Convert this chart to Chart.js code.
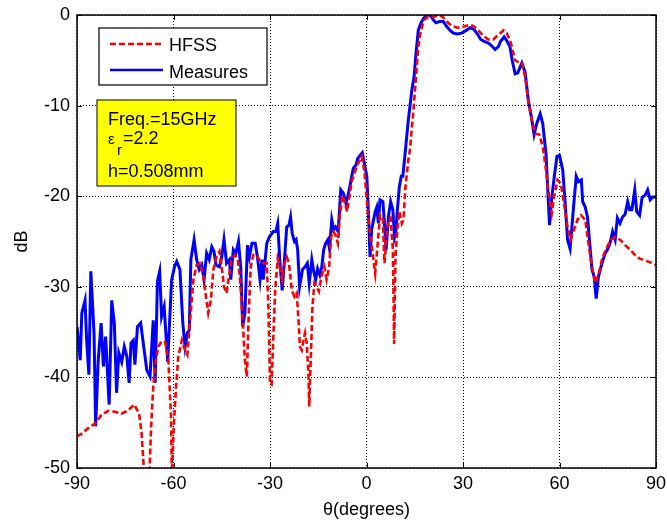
<!DOCTYPE html>
<html lang="en">
<head>
  <meta charset="UTF-8" />
  <title>HFSS vs Measures</title>
  <script src="https://cdn.jsdelivr.net/npm/chart.js"></script>
  <style>
    body {
      margin: 0;
      background-color: #ffffff;
    }
    #wrap {
      width: 667px;
      height: 524px;
    }
  </style>
</head>
<body>
  <div id="wrap"><canvas id="grafico" width="667" height="524"></canvas></div>

  <script>
    // angle ticks and dB ticks
    const angleTicks = [-90, -60, -30, 0, 30, 60, 90];
    const dbTicks = [0, -10, -20, -30, -40, -50];

    // HFSS simulation (dashed red)
    const hfssAngle = [-90, -88.5, -86.5, -84.4, -82.3, -80.3, -78.2, -76.1, -74.0, -72.2, -70.7, -69.9, -69.4, -68.9, -67.6, -67.0, -66.3, -65.5, -64.7, -63.7, -62.6, -61.6, -60.8, -60.5, -60.0, -59.2, -58.5, -57.4, -56.4, -55.7, -54.9, -53.8, -52.8, -51.8, -50.7, -49.9, -49.2, -48.4, -47.6, -46.6, -45.7, -45.0, -44.3, -43.5, -42.6, -41.9, -40.9, -40.0, -39.3, -38.5, -37.8, -37.2, -36.6, -36.0, -35.2, -34.1, -33.1, -32.1, -31.0, -30.5, -30.0, -29.5, -29.0, -28.4, -27.6, -26.9, -26.2, -25.5, -24.8, -24.1, -23.2, -22.4, -21.7, -21.2, -20.7, -20.1, -19.6, -19.1, -18.6, -18.1, -17.8, -17.3, -16.8, -16.2, -15.5, -14.8, -13.9, -13.1, -12.4, -11.6, -11.0, -10.3, -9.6, -8.9, -8.2, -7.5, -6.7, -6.0, -5.4, -4.6, -3.8, -3.0, -2.3, -1.5, -0.7, 0.3, 1.1, 1.9, 2.7, 3.4, 4.2, 5.1, 5.6, 6.1, 6.8, 7.5, 8.2, 8.6, 9.0, 9.6, 10.2, 11.0, 11.5, 12.1, 13.0, 13.5, 14.6, 15.4, 16.1, 16.9, 17.9, 19.2, 20.6, 22.3, 23.7, 24.9, 26.5, 28.2, 30.1, 32.0, 33.2, 34.8, 36.3, 37.9, 39.4, 41.0, 42.6, 43.6, 44.9, 46.2, 47.5, 48.3, 49.3, 50.3, 51.4, 52.4, 53.7, 54.8, 55.8, 56.9, 57.6, 58.3, 59.4, 60.4, 61.4, 62.5, 63.5, 64.5, 65.6, 66.7, 68.0, 69.0, 70.1, 71.1, 72.1, 73.2, 74.5, 76.0, 77.3, 78.8, 80.4, 81.9, 83.5, 85.0, 86.6, 88.2, 90.0];
    const hfssDb = [-46.5, -46.2, -45.6, -45.1, -44.1, -43.7, -43.8, -44.0, -43.6, -43.0, -44.0, -46.2, -49.1, -52, -52, -45.8, -41.0, -38.1, -36.6, -36.0, -36.1, -38.1, -44.0, -51, -46, -41.0, -37.7, -35.9, -37.0, -37.5, -34.0, -29.2, -27.6, -27.4, -28.9, -31.1, -32.9, -31.5, -28.1, -26.7, -26.1, -27.8, -30.0, -30.7, -28.5, -26.9, -26.5, -27.0, -29.2, -33.7, -38.1, -39.9, -32.9, -27.8, -26.5, -26.5, -27.2, -27.4, -27.4, -32.2, -40.7, -40.8, -35.9, -30.4, -26.9, -27.8, -29.2, -27.4, -26.7, -27.4, -30.4, -31.1, -30.7, -33.3, -36.6, -37.0, -35.9, -35.1, -36.2, -39.2, -43.2, -37.7, -32.2, -29.6, -30.0, -30.5, -28.7, -27.8, -29.2, -27.8, -24.5, -23.9, -24.3, -25.2, -21.9, -19.9, -20.8, -21.7, -20.2, -18.4, -17.5, -16.7, -16.2, -15.6, -17.1, -21.2, -24.1, -26.3, -28.5, -25.6, -22.1, -22.6, -27.4, -25.2, -22.6, -22.4, -25.9, -36.3, -26.7, -23.7, -21.7, -23.0, -22.6, -19.0, -16.0, -14.9, -10.5, -6.8, -3.5, -1.7, -0.55, -0.2, -0.25, 0, -0.2, -0.7, -1.2, -1.4, -1.3, -1.1, -1.2, -1.7, -2.3, -2.7, -2.7, -2.2, -1.7, -2.0, -3.1, -5.0, -5.3, -5.3, -6.8, -9.4, -11.6, -13.1, -13.2, -14.5, -17.1, -20.4, -21.9, -20.1, -18.2, -18.6, -20.8, -23.4, -24.8, -23.7, -22.6, -22.1, -22.6, -25.2, -27.8, -29.6, -28.7, -27.0, -25.8, -24.8, -24.5, -24.8, -25.4, -25.9, -26.5, -26.9, -27.1, -27.3, -27.6];

    // measured pattern (solid blue)
    const measAngle = [-90, -89, -88.5, -87.5, -87, -86.3, -85.7, -84.7, -84.2, -83.4, -82.5, -81.8, -81.1, -80, -79.2, -78.4, -77.7, -77, -76.1, -75.3, -74.5, -73.8, -73.2, -72.5, -72, -71.2, -70.2, -69.4, -68.3, -67.3, -66.3, -65.7, -65, -64.3, -63.7, -62.9, -61.8, -60.6, -59.7, -59, -58, -57.1, -56.4, -55.7, -55.1, -54.6, -53.6, -52.8, -52.0, -51.2, -50.5, -49.7, -48.9, -48.1, -47.4, -46.8, -45.7, -45.0, -44.3, -43.5, -42.6, -42.2, -41.4, -40.6, -39.8, -39.1, -38.5, -37.8, -37.0, -36.4, -35.6, -34.6, -33.9, -33.1, -32.5, -32.1, -31.0, -30.2, -29.0, -28.2, -27.6, -26.9, -26.2, -25.5, -24.8, -24.1, -23.6, -23.1, -22.4, -21.9, -21.4, -20.8, -19.9, -19.1, -18.4, -17.8, -17.0, -16.4, -15.8, -15.2, -14.5, -13.9, -13.3, -12.7, -12.0, -11.5, -10.8, -10.2, -9.6, -8.8, -8.0, -7.2, -6.4, -5.6, -4.8, -4.1, -3.3, -2.7, -2.0, -1.3, -0.6, 0.1, 0.6, 1.1, 1.6, 2.7, 3.2, 3.7, 4.2, 5.1, 5.5, 6.1, 6.8, 7.5, 8.2, 8.7, 9.2, 9.6, 10.2, 10.8, 11.3, 12.0, 13.0, 14.1, 14.8, 15.4, 16.1, 16.9, 17.7, 18.7, 19.8, 20.8, 21.6, 22.7, 23.9, 25.0, 26.0, 27.0, 28.2, 29.6, 31.0, 32.2, 33.4, 34.5, 35.5, 36.6, 37.9, 38.9, 40.0, 41.0, 41.7, 42.8, 43.7, 44.6, 45.3, 46.2, 47.0, 48.3, 49.3, 50.3, 51.4, 52.1, 52.9, 54.0, 54.8, 55.8, 56.9, 57.6, 58.4, 59.2, 60.0, 61.0, 61.7, 62.5, 63.3, 64.1, 65.2, 65.9, 66.8, 67.2, 68.0, 68.7, 69.4, 70.1, 70.8, 71.4, 72.1, 73.2, 74.2, 74.9, 75.7, 76.5, 77.3, 78.0, 78.8, 79.6, 80.4, 81.2, 81.8, 82.5, 83.4, 84.0, 84.9, 85.7, 86.6, 87.4, 88.2, 89.0, 90.0];
    const measDb = [-34.4, -38.1, -32.9, -31.5, -35.9, -39.7, -28.3, -35.1, -45.4, -38.1, -34.0, -38.8, -35.5, -43.0, -31.5, -34.0, -41.7, -37.3, -38.3, -36.6, -37.7, -40.6, -36.2, -35.9, -38.6, -34.4, -34.0, -36.2, -39.2, -39.9, -33.7, -40.6, -29.4, -28.3, -33.3, -32.2, -38.3, -29.3, -27.8, -27.2, -28.1, -34.0, -36.6, -35.1, -34.8, -27.0, -24.8, -27.0, -28.1, -27.6, -29.2, -26.3, -27.0, -25.6, -26.1, -27.6, -27.8, -26.7, -24.8, -27.4, -27.0, -29.2, -25.9, -26.3, -25.0, -27.8, -34.4, -32.9, -25.4, -26.7, -25.2, -25.2, -26.7, -29.2, -27.0, -29.2, -25.2, -24.5, -23.9, -23.9, -23.0, -27.4, -30.4, -27.0, -23.4, -23.2, -22.3, -24.1, -25.0, -24.8, -25.9, -30.0, -28.1, -27.8, -27.4, -29.6, -27.0, -28.3, -29.2, -28.0, -28.7, -27.8, -25.9, -25.2, -24.8, -25.8, -22.6, -23.7, -23.4, -23.9, -19.3, -19.7, -20.8, -19.7, -18.2, -16.9, -16.6, -15.8, -15.5, -15.2, -16.5, -17.8, -21.9, -26.7, -23.7, -21.7, -21.2, -23.0, -20.4, -20.6, -22.6, -25.9, -22.3, -20.6, -21.5, -24.5, -23.7, -21.5, -19.0, -17.8, -17.8, -15.3, -11.6, -8.3, -6.8, -4.2, -1.7, -0.9, -0.4, 0, 0, -0.55, -0.85, -0.73, -0.73, -1.3, -1.7, -2.0, -2.1, -2.0, -1.7, -1.4, -1.6, -2.1, -2.7, -2.9, -3.1, -3.4, -3.8, -3.5, -2.9, -2.4, -2.9, -3.5, -5.0, -6.5, -6.4, -5.3, -6.3, -9.4, -11.6, -13.2, -12.0, -10.9, -12.0, -15.3, -23.2, -20.1, -17.8, -15.6, -15.5, -17.1, -20.4, -24.8, -25.8, -22.3, -17.8, -18.4, -18.2, -20.6, -21.2, -22.3, -25.2, -28.1, -28.9, -31.3, -28.9, -27.4, -26.3, -25.9, -25.2, -23.9, -24.8, -22.4, -23.0, -22.3, -22.0, -20.6, -21.5, -21.5, -19.3, -21.7, -22.1, -20.1, -19.9, -19.3, -20.4, -20.1, -20.1];

    const fonte = "'Liberation Sans', Arial, sans-serif";

    // caixa do eixo, ticks internos, legenda e caixa amarela
    const extras = {
      id: 'extras',
      afterDatasetsDraw(chart) {
        const ctx = chart.ctx;
        const a = chart.chartArea;
        const xs = chart.scales.x, ys = chart.scales.y;
        ctx.save();
        ctx.strokeStyle = '#000';
        ctx.lineWidth = 1;
        ctx.setLineDash([]);
        ctx.beginPath();
        angleTicks.forEach(v => {
          const px = Math.round(xs.getPixelForValue(v)) + 0.5;
          ctx.moveTo(px, a.bottom); ctx.lineTo(px, a.bottom - 5);
          ctx.moveTo(px, a.top); ctx.lineTo(px, a.top + 5);
        });
        dbTicks.forEach(v => {
          const py = Math.round(ys.getPixelForValue(v)) + 0.5;
          ctx.moveTo(a.left, py); ctx.lineTo(a.left + 5, py);
          ctx.moveTo(a.right, py); ctx.lineTo(a.right - 5, py);
        });
        ctx.stroke();
        ctx.lineWidth = 1.5;
        ctx.strokeRect(a.left, a.top, a.right - a.left, a.bottom - a.top);

        // legenda
        ctx.fillStyle = '#fff';
        ctx.fillRect(99, 28, 168, 57);
        ctx.lineWidth = 1.2;
        ctx.strokeRect(99, 28, 168, 57);
        ctx.lineWidth = 2.5;
        ctx.strokeStyle = '#ff0000';
        ctx.setLineDash([6, 3]);
        ctx.beginPath(); ctx.moveTo(110, 44); ctx.lineTo(163, 44); ctx.stroke();
        ctx.setLineDash([]);
        ctx.strokeStyle = '#0000ff';
        ctx.beginPath(); ctx.moveTo(110, 70); ctx.lineTo(163, 70); ctx.stroke();
        ctx.fillStyle = '#000';
        ctx.font = '18px ' + fonte;
        ctx.textBaseline = 'middle';
        ctx.fillText('HFSS', 169, 46);
        ctx.fillText('Measures', 169, 73);

        // caixa amarela
        ctx.fillStyle = '#ffff00';
        ctx.fillRect(97, 100, 139, 86);
        ctx.strokeStyle = '#000';
        ctx.lineWidth = 1;
        ctx.strokeRect(97, 100, 139, 86);
        ctx.fillStyle = '#000';
        ctx.font = '18px ' + fonte;
        ctx.fillText('Freq.=15GHz', 108, 120);
        ctx.font = '15px ' + fonte;
        ctx.fillText('\u03b5', 108, 140);
        ctx.fillText('r', 117, 151);
        ctx.font = '18px ' + fonte;
        ctx.fillText('=2.2', 123, 139);
        ctx.fillText('h=0.508mm', 108, 172);
        ctx.restore();
      }
    };

    const ctx = document.getElementById('grafico').getContext('2d');
    new Chart(ctx, {
      type: 'line',
      data: {
        datasets: [
          {
            label: 'HFSS',
            data: hfssAngle.map((a, i) => ({ x: a, y: hfssDb[i] })),
            borderColor: '#ff0000',
            borderWidth: 2.6,
            borderDash: [6, 3],
            pointRadius: 0,
            tension: 0,
            clip: 0
          },
          {
            label: 'Measures',
            data: measAngle.map((a, i) => ({ x: a, y: measDb[i] })),
            borderColor: '#0000ff',
            borderWidth: 3,
            pointRadius: 0,
            tension: 0,
            clip: 0
          }
        ]
      },
      options: {
        responsive: false,
        animation: false,
        devicePixelRatio: 1,
        layout: { padding: { left: 0, right: 11, top: 15, bottom: 0 } },
        plugins: {
          legend: { display: false },
          tooltip: { enabled: false }
        },
        scales: {
          x: {
            type: 'linear',
            min: -90,
            max: 90,
            afterBuildTicks: s => { s.ticks = angleTicks.map(v => ({ value: v })); },
            afterFit: s => { s.height = 56; s.paddingLeft = 0; s.paddingRight = 0; },
            ticks: { color: '#000', font: { size: 18, family: fonte }, padding: 5, maxRotation: 0 },
            grid: { color: '#000', drawTicks: false, lineWidth: 1 },
            border: { display: false, dash: [1, 2] },
            title: { display: true, text: '\u03b8(degrees)', color: '#000', font: { size: 18, family: fonte }, padding: { top: 0, bottom: 3 } }
          },
          y: {
            min: -50,
            max: 0,
            afterBuildTicks: s => { s.ticks = dbTicks.map(v => ({ value: v })); },
            afterFit: s => { s.width = 77; s.paddingTop = 0; s.paddingBottom = 0; },
            ticks: { color: '#000', font: { size: 18, family: fonte }, padding: 7 },
            grid: { color: '#000', drawTicks: false, lineWidth: 1 },
            border: { display: false, dash: [1, 2] },
            title: { display: true, text: 'dB', color: '#000', font: { size: 18, family: fonte }, padding: { top: 11, bottom: 0 } }
          }
        }
      },
      plugins: [extras]
    });
  </script>
</body>
</html>
